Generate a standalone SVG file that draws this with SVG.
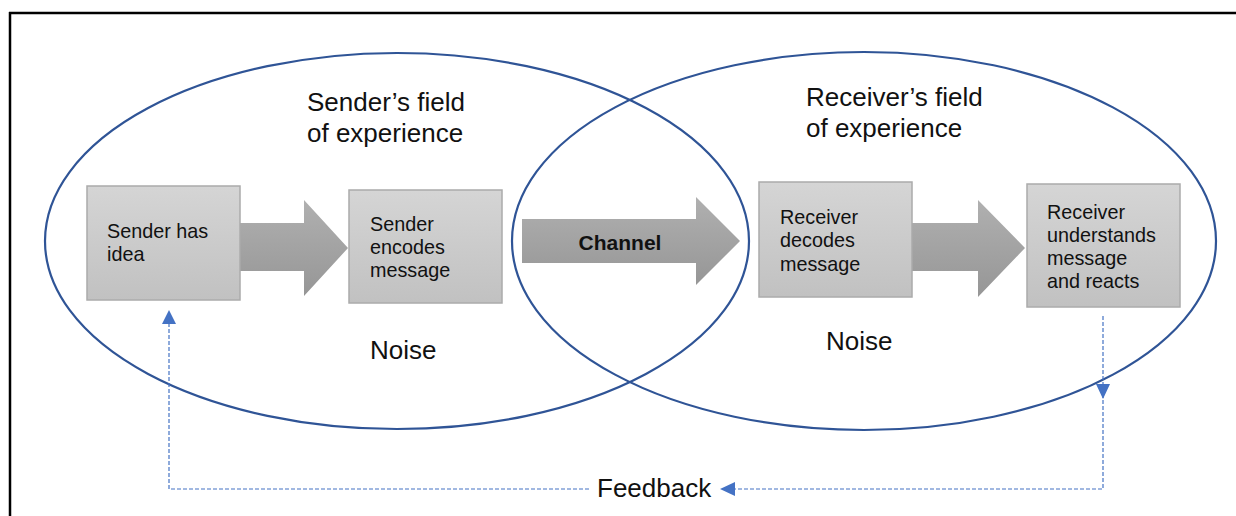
<svg xmlns="http://www.w3.org/2000/svg" width="1236" height="516" viewBox="0 0 1236 516">
  <defs>
    <linearGradient id="boxGrad" x1="0" y1="0" x2="0" y2="1">
      <stop offset="0" stop-color="#d5d5d5"/>
      <stop offset="1" stop-color="#c1c1c1"/>
    </linearGradient>
    <linearGradient id="arrowGrad" x1="0" y1="0" x2="0" y2="1">
      <stop offset="0" stop-color="#b0b0b0"/>
      <stop offset="1" stop-color="#969696"/>
    </linearGradient>
    <style>
      .box { fill: url(#boxGrad); stroke: #ababab; stroke-width: 1.5; }
      .arrow { fill: url(#arrowGrad); }
      .field { fill: none; stroke: #2f5496; stroke-width: 2.2; }
      .t { font-family: "Liberation Sans", Arial, sans-serif; fill: #111; }
      .big { font-size: 26px; }
      .small { font-size: 19.8px; }
      .bold { font-size: 21px; font-weight: bold; }
      .fb { fill: none; stroke: #4472c4; stroke-width: 1.2; stroke-dasharray: 4 2; }
      .head { fill: #4472c4; }
    </style>
  </defs>

  <rect x="0" y="0" width="1236" height="516" fill="#ffffff"/>

  <g id="frame">
    <line x1="9" y1="13" x2="1236" y2="13" stroke="#000" stroke-width="2.5"/>
    <line x1="10" y1="12" x2="10" y2="516" stroke="#000" stroke-width="2.5"/>
  </g>

  <g id="sender-field">
    <ellipse class="field" cx="397" cy="241" rx="352" ry="188"/>
    <text class="t big" x="307" y="111">Sender’s field</text>
    <text class="t big" x="307" y="142">of experience</text>
    <text class="t big" x="370" y="359">Noise</text>
  </g>

  <g id="receiver-field">
    <ellipse class="field" cx="864" cy="241" rx="352" ry="189"/>
    <text class="t big" x="806" y="106">Receiver’s field</text>
    <text class="t big" x="806" y="137">of experience</text>
    <text class="t big" x="826" y="350">Noise</text>
  </g>

  <g id="connectors">
    <polygon id="arrow-encode" class="arrow" points="240,223 304,223 304,200 348,248 304,296 304,271 240,271"/>
    <g id="channel">
      <polygon class="arrow" points="522,219 696,219 696,197 740,241 696,285 696,263 522,263"/>
      <text class="t bold" x="620" y="250" text-anchor="middle">Channel</text>
    </g>
    <polygon id="arrow-understand" class="arrow" points="912,223 978,223 978,200 1025,248 978,297 978,271 912,271"/>

    <g id="feedback">
      <path class="fb" d="M1103,316 V489 H734"/>
      <polygon class="head" points="1096,384 1110,384 1103,399"/>
      <polygon class="head" points="720,489 735,482 735,496"/>
      <path class="fb" d="M589,489 H169 V322"/>
      <polygon class="head" points="169,310 162,324 176,324"/>
      <text class="t big" x="597" y="497">Feedback</text>
    </g>
  </g>

  <g id="node-sender-idea">
    <rect class="box" x="87" y="186" width="153" height="114"/>
    <text class="t small" x="107" y="238">Sender has</text>
    <text class="t small" x="107" y="261">idea</text>
  </g>

  <g id="node-sender-encodes">
    <rect class="box" x="349" y="190" width="153" height="113"/>
    <text class="t small" x="370" y="231">Sender</text>
    <text class="t small" x="370" y="254">encodes</text>
    <text class="t small" x="370" y="277">message</text>
  </g>

  <g id="node-receiver-decodes">
    <rect class="box" x="759" y="182" width="153" height="115"/>
    <text class="t small" x="780" y="224">Receiver</text>
    <text class="t small" x="780" y="247">decodes</text>
    <text class="t small" x="780" y="271">message</text>
  </g>

  <g id="node-receiver-understands">
    <rect class="box" x="1027" y="184" width="153" height="123"/>
    <text class="t small" x="1047" y="219">Receiver</text>
    <text class="t small" x="1047" y="242">understands</text>
    <text class="t small" x="1047" y="265">message</text>
    <text class="t small" x="1047" y="288">and reacts</text>
  </g>
</svg>
